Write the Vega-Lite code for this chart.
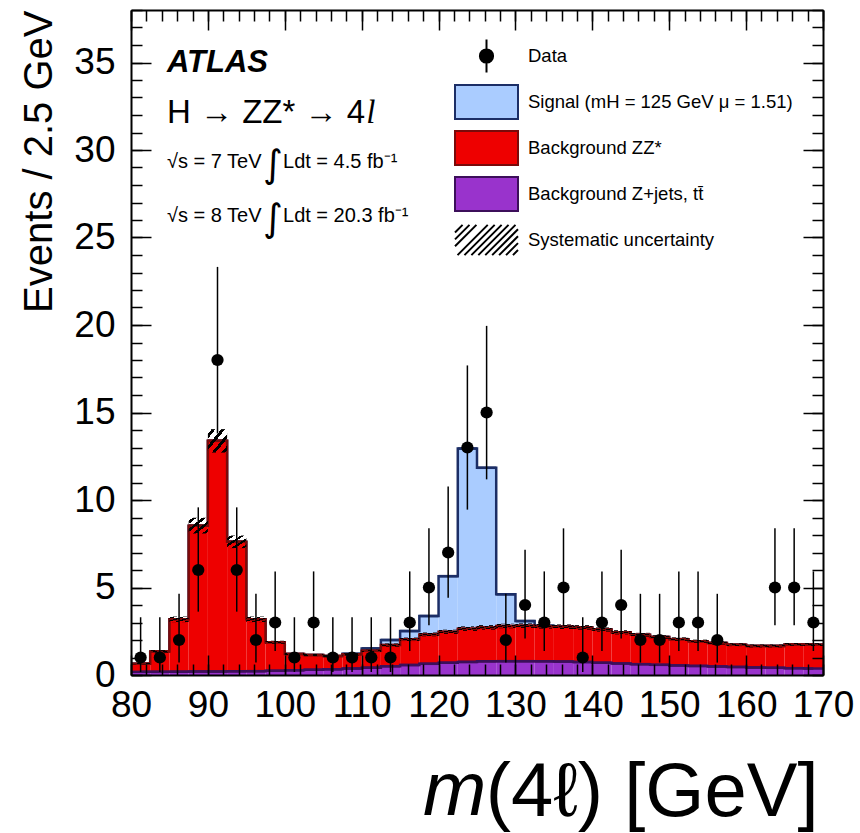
{
  "$schema": "https://vega.github.io/schema/vega-lite/v6.json",
  "width": 692,
  "height": 665,
  "autosize": "none",
  "padding": {"left": 131, "top": 10, "right": 37, "bottom": 158},
  "background": "white",
  "config": {"font": "Liberation Sans", "view": {"stroke": null}, "legend": {"rowPadding": 2}},
  "datasets": {
    "bins": [
      {"lo": 80, "hi": 82.5, "bkg_zjets": 0.18, "bkg_zz": 0.47, "sig_higgs": 0, "syst": 0.04},
      {"lo": 82.5, "hi": 85, "bkg_zjets": 0.18, "bkg_zz": 1.17, "sig_higgs": 0, "syst": 0.07},
      {"lo": 85, "hi": 87.5, "bkg_zjets": 0.19, "bkg_zz": 2.99, "sig_higgs": 0, "syst": 0.16},
      {"lo": 87.5, "hi": 90, "bkg_zjets": 0.2, "bkg_zz": 8.33, "sig_higgs": 0, "syst": 0.45},
      {"lo": 90, "hi": 92.5, "bkg_zjets": 0.2, "bkg_zz": 13.18, "sig_higgs": 0, "syst": 0.67},
      {"lo": 92.5, "hi": 95, "bkg_zjets": 0.21, "bkg_zz": 7.4, "sig_higgs": 0, "syst": 0.36},
      {"lo": 95, "hi": 97.5, "bkg_zjets": 0.22, "bkg_zz": 2.96, "sig_higgs": 0, "syst": 0.16},
      {"lo": 97.5, "hi": 100, "bkg_zjets": 0.24, "bkg_zz": 1.63, "sig_higgs": 0, "syst": 0.09},
      {"lo": 100, "hi": 102.5, "bkg_zjets": 0.27, "bkg_zz": 0.93, "sig_higgs": 0, "syst": 0.06},
      {"lo": 102.5, "hi": 105, "bkg_zjets": 0.3, "bkg_zz": 0.84, "sig_higgs": 0, "syst": 0.06},
      {"lo": 105, "hi": 107.5, "bkg_zjets": 0.33, "bkg_zz": 0.75, "sig_higgs": 0, "syst": 0.06},
      {"lo": 107.5, "hi": 110, "bkg_zjets": 0.37, "bkg_zz": 0.81, "sig_higgs": 0.03, "syst": 0.06},
      {"lo": 110, "hi": 112.5, "bkg_zjets": 0.42, "bkg_zz": 0.96, "sig_higgs": 0.14, "syst": 0.07},
      {"lo": 112.5, "hi": 115, "bkg_zjets": 0.5, "bkg_zz": 1.21, "sig_higgs": 0.29, "syst": 0.09},
      {"lo": 115, "hi": 117.5, "bkg_zjets": 0.57, "bkg_zz": 1.47, "sig_higgs": 0.47, "syst": 0.1},
      {"lo": 117.5, "hi": 120, "bkg_zjets": 0.64, "bkg_zz": 1.68, "sig_higgs": 1.05, "syst": 0.11},
      {"lo": 120, "hi": 122.5, "bkg_zjets": 0.7, "bkg_zz": 1.77, "sig_higgs": 3.18, "syst": 0.12},
      {"lo": 122.5, "hi": 125, "bkg_zjets": 0.75, "bkg_zz": 1.9, "sig_higgs": 10.29, "syst": 0.13},
      {"lo": 125, "hi": 127.5, "bkg_zjets": 0.78, "bkg_zz": 1.94, "sig_higgs": 9.12, "syst": 0.13},
      {"lo": 127.5, "hi": 130, "bkg_zjets": 0.79, "bkg_zz": 2.01, "sig_higgs": 1.81, "syst": 0.13},
      {"lo": 130, "hi": 132.5, "bkg_zjets": 0.79, "bkg_zz": 2.03, "sig_higgs": 0.26, "syst": 0.13},
      {"lo": 132.5, "hi": 135, "bkg_zjets": 0.78, "bkg_zz": 2.0, "sig_higgs": 0.04, "syst": 0.13},
      {"lo": 135, "hi": 137.5, "bkg_zjets": 0.77, "bkg_zz": 1.99, "sig_higgs": 0.02, "syst": 0.13},
      {"lo": 137.5, "hi": 140, "bkg_zjets": 0.74, "bkg_zz": 1.98, "sig_higgs": 0, "syst": 0.13},
      {"lo": 140, "hi": 142.5, "bkg_zjets": 0.7, "bkg_zz": 1.9, "sig_higgs": 0, "syst": 0.12},
      {"lo": 142.5, "hi": 145, "bkg_zjets": 0.66, "bkg_zz": 1.78, "sig_higgs": 0, "syst": 0.12},
      {"lo": 145, "hi": 147.5, "bkg_zjets": 0.62, "bkg_zz": 1.68, "sig_higgs": 0, "syst": 0.11},
      {"lo": 147.5, "hi": 150, "bkg_zjets": 0.58, "bkg_zz": 1.59, "sig_higgs": 0, "syst": 0.1},
      {"lo": 150, "hi": 152.5, "bkg_zjets": 0.55, "bkg_zz": 1.5, "sig_higgs": 0, "syst": 0.1},
      {"lo": 152.5, "hi": 155, "bkg_zjets": 0.52, "bkg_zz": 1.41, "sig_higgs": 0, "syst": 0.09},
      {"lo": 155, "hi": 157.5, "bkg_zjets": 0.49, "bkg_zz": 1.34, "sig_higgs": 0, "syst": 0.09},
      {"lo": 157.5, "hi": 160, "bkg_zjets": 0.46, "bkg_zz": 1.27, "sig_higgs": 0, "syst": 0.08},
      {"lo": 160, "hi": 162.5, "bkg_zjets": 0.43, "bkg_zz": 1.23, "sig_higgs": 0, "syst": 0.08},
      {"lo": 162.5, "hi": 165, "bkg_zjets": 0.41, "bkg_zz": 1.25, "sig_higgs": 0, "syst": 0.08},
      {"lo": 165, "hi": 167.5, "bkg_zjets": 0.39, "bkg_zz": 1.36, "sig_higgs": 0, "syst": 0.08},
      {"lo": 167.5, "hi": 170, "bkg_zjets": 0.37, "bkg_zz": 1.37, "sig_higgs": 0, "syst": 0.08}
    ],
    "obs": [
      {"m": 81.25, "n": 1, "lo": 0.17, "hi": 3.3},
      {"m": 83.75, "n": 1, "lo": 0.17, "hi": 3.3},
      {"m": 86.25, "n": 2, "lo": 0.71, "hi": 4.64},
      {"m": 88.75, "n": 6, "lo": 3.62, "hi": 9.58},
      {"m": 91.25, "n": 18, "lo": 13.8, "hi": 23.32},
      {"m": 93.75, "n": 6, "lo": 3.62, "hi": 9.58},
      {"m": 96.25, "n": 2, "lo": 0.71, "hi": 4.64},
      {"m": 98.75, "n": 3, "lo": 1.37, "hi": 5.92},
      {"m": 101.25, "n": 1, "lo": 0.17, "hi": 3.3},
      {"m": 103.75, "n": 3, "lo": 1.37, "hi": 5.92},
      {"m": 106.25, "n": 1, "lo": 0.17, "hi": 3.3},
      {"m": 108.75, "n": 1, "lo": 0.17, "hi": 3.3},
      {"m": 111.25, "n": 1, "lo": 0.17, "hi": 3.3},
      {"m": 113.75, "n": 1, "lo": 0.17, "hi": 3.3},
      {"m": 116.25, "n": 3, "lo": 1.37, "hi": 5.92},
      {"m": 118.75, "n": 5, "lo": 2.84, "hi": 8.38},
      {"m": 121.25, "n": 7, "lo": 4.42, "hi": 10.77},
      {"m": 123.75, "n": 13, "lo": 9.45, "hi": 17.69},
      {"m": 126.25, "n": 15, "lo": 11.18, "hi": 19.95},
      {"m": 128.75, "n": 2, "lo": 0.71, "hi": 4.64},
      {"m": 131.25, "n": 4, "lo": 2.09, "hi": 7.16},
      {"m": 133.75, "n": 3, "lo": 1.37, "hi": 5.92},
      {"m": 136.25, "n": 5, "lo": 2.84, "hi": 8.38},
      {"m": 138.75, "n": 1, "lo": 0.17, "hi": 3.3},
      {"m": 141.25, "n": 3, "lo": 1.37, "hi": 5.92},
      {"m": 143.75, "n": 4, "lo": 2.09, "hi": 7.16},
      {"m": 146.25, "n": 2, "lo": 0.71, "hi": 4.64},
      {"m": 148.75, "n": 2, "lo": 0.71, "hi": 4.64},
      {"m": 151.25, "n": 3, "lo": 1.37, "hi": 5.92},
      {"m": 153.75, "n": 3, "lo": 1.37, "hi": 5.92},
      {"m": 156.25, "n": 2, "lo": 0.71, "hi": 4.64},
      {"m": 158.75, "n": 0, "lo": 0, "hi": 1.84},
      {"m": 161.25, "n": 0, "lo": 0, "hi": 1.84},
      {"m": 163.75, "n": 5, "lo": 2.84, "hi": 8.38},
      {"m": 166.25, "n": 5, "lo": 2.84, "hi": 8.38},
      {"m": 168.75, "n": 3, "lo": 1.37, "hi": 5.92}
    ],
    "entries": [
      {"entry": "Data"},
      {"entry": "Signal (mH = 125 GeV μ = 1.51)"},
      {"entry": "Background ZZ*"},
      {"entry": "Background Z+jets, tt̄"},
      {"entry": "Systematic uncertainty"}
    ]
  },
  "resolve": {"axis": {"x": "independent", "y": "independent"}},
  "layer": [
    {
      "data": {"name": "bins"},
      "transform": [
        {"calculate": "(datum.lo + datum.hi) / 2", "as": "mid"},
        {"fold": ["bkg_zjets", "bkg_zz", "sig_higgs"], "as": ["comp", "val"]},
        {"stack": "val", "groupby": ["lo"], "sort": [{"field": "comp", "order": "ascending"}], "as": ["v0", "v1"]}
      ],
      "resolve": {"axis": {"x": "independent", "y": "independent"}},
      "layer": [
        {
          "transform": [{"filter": "datum.comp === 'sig_higgs'"}],
          "mark": {"type": "rect", "fill": "#aaccff"},
          "encoding": {
            "x": {"field": "lo", "type": "quantitative", "scale": {"domain": [80, 170], "nice": false, "zero": false},
              "axis": {"orient": "bottom", "values": [80, 90, 100, 110, 120, 130, 140, 150, 160, 170], "ticks": false, "domain": true, "domainColor": "black", "domainWidth": 2, "grid": false, "labels": true, "labelFont": "Liberation Sans", "labelFontSize": 37, "labelColor": "black", "labelPadding": 12, "labelFlush": false, "labelOverlap": false, "labelBound": false, "zindex": 1,
                "title": "(4ℓ) [GeV]", "titleFont": "Liberation Sans", "titleFontSize": 76, "titleFontWeight": "normal", "titleColor": "black", "titleX": 687, "titleY": 140, "titleAlign": "right", "titleBaseline": "alphabetic", "titleAngle": 0}},
            "x2": {"field": "hi"},
            "y": {"field": "v0", "type": "quantitative", "scale": {"domain": [0, 38], "nice": false, "zero": false},
              "axis": {"orient": "left", "values": [0, 5, 10, 15, 20, 25, 30, 35], "ticks": false, "domain": true, "domainColor": "black", "domainWidth": 2, "grid": false, "labels": true, "labelFont": "Liberation Sans", "labelFontSize": 37, "labelColor": "black", "labelPadding": 16, "labelAlign": "right", "labelBaseline": "middle", "labelFlush": false, "labelOverlap": false, "labelBound": false, "zindex": 1,
                "title": "Events / 2.5 GeV", "titleFont": "Liberation Sans", "titleFontSize": 40, "titleFontWeight": "normal", "titleColor": "black", "titleX": -80, "titleY": 0, "titleAngle": -90, "titleAlign": "right", "titleBaseline": "alphabetic"}},
            "y2": {"field": "v1"}
          }
        },
        {
          "transform": [{"filter": "datum.comp === 'sig_higgs'"}],
          "mark": {"type": "line", "interpolate": "step", "stroke": "#1c2e66", "strokeWidth": 2.5},
          "encoding": {
            "x": {"field": "mid", "type": "quantitative",
              "axis": {"orient": "bottom", "values": [80, 90, 100, 110, 120, 130, 140, 150, 160, 170], "ticks": true, "tickSize": -20, "tickWidth": 1.5, "tickColor": "black", "labels": false, "domain": false, "grid": false, "title": null, "zindex": 1}},
            "y": {"field": "v1", "type": "quantitative",
              "axis": {"orient": "left", "values": [0, 5, 10, 15, 20, 25, 30, 35], "ticks": true, "tickSize": -20, "tickWidth": 1.5, "tickColor": "black", "labels": false, "domain": false, "grid": false, "title": null, "zindex": 1}}
          }
        },
        {
          "transform": [{"filter": "datum.comp === 'sig_higgs'"}],
          "mark": {"type": "rule", "stroke": "#1c2e66", "strokeWidth": 2.5},
          "encoding": {
            "x": {"field": "lo", "type": "quantitative",
              "axis": {"orient": "bottom", "values": [80, 82, 84, 86, 88, 90, 92, 94, 96, 98, 100, 102, 104, 106, 108, 110, 112, 114, 116, 118, 120, 122, 124, 126, 128, 130, 132, 134, 136, 138, 140, 142, 144, 146, 148, 150, 152, 154, 156, 158, 160, 162, 164, 166, 168, 170], "ticks": true, "tickSize": -11, "tickWidth": 1.5, "tickColor": "black", "labels": false, "domain": false, "grid": false, "title": null, "zindex": 1}},
            "x2": {"field": "hi"},
            "y": {"field": "v1", "type": "quantitative",
              "axis": {"orient": "left", "values": [0, 1, 2, 3, 4, 5, 6, 7, 8, 9, 10, 11, 12, 13, 14, 15, 16, 17, 18, 19, 20, 21, 22, 23, 24, 25, 26, 27, 28, 29, 30, 31, 32, 33, 34, 35, 36, 37, 38], "ticks": true, "tickSize": -11, "tickWidth": 1.5, "tickColor": "black", "labels": false, "domain": false, "grid": false, "title": null, "zindex": 1}}
          }
        },
        {
          "transform": [{"filter": "datum.comp === 'bkg_zz'"}],
          "mark": {"type": "rect", "fill": "#ee0000"},
          "encoding": {
            "x": {"field": "lo", "type": "quantitative",
              "axis": {"orient": "top", "values": [80, 90, 100, 110, 120, 130, 140, 150, 160, 170], "ticks": true, "tickSize": -20, "tickWidth": 1.5, "tickColor": "black", "labels": false, "domain": true, "domainColor": "black", "domainWidth": 2, "grid": false, "title": null, "zindex": 1}},
            "x2": {"field": "hi"},
            "y": {"field": "v0", "type": "quantitative",
              "axis": {"orient": "right", "values": [0, 5, 10, 15, 20, 25, 30, 35], "ticks": true, "tickSize": -20, "tickWidth": 1.5, "tickColor": "black", "labels": false, "domain": true, "domainColor": "black", "domainWidth": 2, "grid": false, "title": null, "zindex": 1}},
            "y2": {"field": "v1"}
          }
        },
        {
          "transform": [{"filter": "datum.comp === 'bkg_zz'"}],
          "mark": {"type": "line", "interpolate": "step", "stroke": "#7a0a0a", "strokeWidth": 2.5},
          "encoding": {
            "x": {"field": "mid", "type": "quantitative",
              "axis": {"orient": "top", "values": [80, 82, 84, 86, 88, 90, 92, 94, 96, 98, 100, 102, 104, 106, 108, 110, 112, 114, 116, 118, 120, 122, 124, 126, 128, 130, 132, 134, 136, 138, 140, 142, 144, 146, 148, 150, 152, 154, 156, 158, 160, 162, 164, 166, 168, 170], "ticks": true, "tickSize": -11, "tickWidth": 1.5, "tickColor": "black", "labels": false, "domain": false, "grid": false, "title": null, "zindex": 1}},
            "y": {"field": "v1", "type": "quantitative",
              "axis": {"orient": "right", "values": [0, 1, 2, 3, 4, 5, 6, 7, 8, 9, 10, 11, 12, 13, 14, 15, 16, 17, 18, 19, 20, 21, 22, 23, 24, 25, 26, 27, 28, 29, 30, 31, 32, 33, 34, 35, 36, 37, 38], "ticks": true, "tickSize": -11, "tickWidth": 1.5, "tickColor": "black", "labels": false, "domain": false, "grid": false, "title": null, "zindex": 1}}
          }
        },
        {
          "transform": [{"filter": "datum.comp === 'bkg_zz'"}],
          "mark": {"type": "rule", "stroke": "#7a0a0a", "strokeWidth": 2.5},
          "encoding": {
            "x": {"field": "lo", "type": "quantitative", "axis": null},
            "x2": {"field": "hi"},
            "y": {"field": "v1", "type": "quantitative", "axis": null}
          }
        },
        {
          "transform": [{"filter": "datum.comp === 'bkg_zjets'"}],
          "mark": {"type": "rect", "fill": "#9933cc"},
          "encoding": {
            "x": {"field": "lo", "type": "quantitative", "axis": null},
            "x2": {"field": "hi"},
            "y": {"field": "v0", "type": "quantitative", "axis": null},
            "y2": {"field": "v1"}
          }
        },
        {
          "transform": [{"filter": "datum.comp === 'bkg_zjets'"}],
          "mark": {"type": "line", "interpolate": "step", "stroke": "#3c0f5a", "strokeWidth": 2.5},
          "encoding": {
            "x": {"field": "mid", "type": "quantitative", "axis": null},
            "y": {"field": "v1", "type": "quantitative", "axis": null}
          }
        },
        {
          "transform": [{"filter": "datum.comp === 'bkg_zjets'"}],
          "mark": {"type": "rule", "stroke": "#3c0f5a", "strokeWidth": 2.5},
          "encoding": {
            "x": {"field": "lo", "type": "quantitative", "axis": null},
            "x2": {"field": "hi"},
            "y": {"field": "v1", "type": "quantitative", "axis": null}
          }
        },
        {
          "transform": [
            {"filter": "datum.comp === 'bkg_zz'"},
            {"calculate": "datum.v1 - datum.syst", "as": "band_lo"},
            {"calculate": "datum.v1 + datum.syst", "as": "band_hi"}
          ],
          "mark": {"type": "rect", "fill": {"gradient": "linear", "x1": 0, "y1": 0, "x2": 1, "y2": 1, "stops": [
            {"offset": 0, "color": "rgba(0,0,0,0)"}, {"offset": 0.1, "color": "rgba(0,0,0,0)"},
            {"offset": 0.1, "color": "#000000"}, {"offset": 0.2, "color": "#000000"},
            {"offset": 0.2, "color": "rgba(0,0,0,0)"}, {"offset": 0.35, "color": "rgba(0,0,0,0)"},
            {"offset": 0.35, "color": "#000000"}, {"offset": 0.45, "color": "#000000"},
            {"offset": 0.45, "color": "rgba(0,0,0,0)"}, {"offset": 0.6, "color": "rgba(0,0,0,0)"},
            {"offset": 0.6, "color": "#000000"}, {"offset": 0.7, "color": "#000000"},
            {"offset": 0.7, "color": "rgba(0,0,0,0)"}, {"offset": 0.85, "color": "rgba(0,0,0,0)"},
            {"offset": 0.85, "color": "#000000"}, {"offset": 0.95, "color": "#000000"},
            {"offset": 0.95, "color": "rgba(0,0,0,0)"}, {"offset": 1, "color": "rgba(0,0,0,0)"}
          ]}},
          "encoding": {
            "x": {"field": "lo", "type": "quantitative", "axis": null},
            "x2": {"field": "hi"},
            "y": {"field": "band_lo", "type": "quantitative", "axis": null},
            "y2": {"field": "band_hi"}
          }
        }
      ]
    },
    {
      "data": {"name": "obs"},
      "transform": [{"filter": "datum.n > 0"}],
      "resolve": {"axis": {"x": "independent", "y": "independent"}},
      "layer": [
        {
          "mark": {"type": "rule", "stroke": "black", "strokeWidth": 1.5},
          "encoding": {
            "x": {"field": "m", "type": "quantitative", "axis": null},
            "y": {"field": "lo", "type": "quantitative", "axis": null},
            "y2": {"field": "hi"}
          }
        },
        {
          "mark": {"type": "point", "shape": "circle", "filled": true, "size": 150, "color": "black", "opacity": 1},
          "encoding": {
            "x": {"field": "m", "type": "quantitative", "axis": null},
            "y": {"field": "n", "type": "quantitative", "axis": null}
          }
        }
      ]
    },
    {
      "data": {"values": [{}]},
      "mark": {"type": "text", "text": "ATLAS", "font": "Liberation Sans", "fontSize": 31, "fontWeight": "bold", "fontStyle": "italic", "align": "left", "baseline": "alphabetic", "color": "black"},
      "encoding": {
        "x": {"datum": 84.68, "type": "quantitative", "axis": null},
        "y": {"datum": 34.46, "type": "quantitative", "axis": null}
      }
    },
    {
      "data": {"values": [{}]},
      "mark": {"type": "text", "text": "H → ZZ* → 4", "font": "Liberation Sans", "fontSize": 33, "align": "left", "baseline": "alphabetic", "color": "black"},
      "encoding": {
        "x": {"datum": 84.68, "type": "quantitative", "axis": null},
        "y": {"datum": 31.54, "type": "quantitative", "axis": null}
      }
    },
    {
      "data": {"values": [{}]},
      "mark": {"type": "text", "text": "l", "font": "Liberation Serif", "fontSize": 33, "fontStyle": "italic", "align": "left", "baseline": "alphabetic", "color": "black"},
      "encoding": {
        "x": {"datum": 110.6, "type": "quantitative", "axis": null},
        "y": {"datum": 31.54, "type": "quantitative", "axis": null}
      }
    },
    {
      "data": {"values": [{"t": "√s = 7 TeV"}]},
      "mark": {"type": "text", "font": "Liberation Sans", "fontSize": 20, "align": "left", "baseline": "alphabetic", "color": "black"},
      "encoding": {
        "text": {"field": "t"},
        "x": {"datum": 84.68, "type": "quantitative", "axis": null},
        "y": {"datum": 28.97, "type": "quantitative", "axis": null}
      }
    },
    {
      "data": {"values": [{"t": "√s = 8 TeV"}]},
      "mark": {"type": "text", "font": "Liberation Sans", "fontSize": 20, "align": "left", "baseline": "alphabetic", "color": "black"},
      "encoding": {
        "text": {"field": "t"},
        "x": {"datum": 84.68, "type": "quantitative", "axis": null},
        "y": {"datum": 25.89, "type": "quantitative", "axis": null}
      }
    },
    {
      "data": {"values": [{}]},
      "mark": {"type": "text", "text": "∫", "font": "DejaVu Sans", "fontSize": 38, "align": "left", "baseline": "alphabetic", "color": "black"},
      "encoding": {
        "x": {"datum": 97.2, "type": "quantitative", "axis": null},
        "y": {"datum": 28.46, "type": "quantitative", "axis": null}
      }
    },
    {
      "data": {"values": [{}]},
      "mark": {"type": "text", "text": "∫", "font": "DejaVu Sans", "fontSize": 38, "align": "left", "baseline": "alphabetic", "color": "black"},
      "encoding": {
        "x": {"datum": 97.2, "type": "quantitative", "axis": null},
        "y": {"datum": 25.37, "type": "quantitative", "axis": null}
      }
    },
    {
      "data": {"values": [{"t": "Ldt = 4.5 fb⁻¹"}]},
      "mark": {"type": "text", "font": "Liberation Sans", "fontSize": 20, "align": "left", "baseline": "alphabetic", "color": "black"},
      "encoding": {
        "text": {"field": "t"},
        "x": {"datum": 99.77, "type": "quantitative", "axis": null},
        "y": {"datum": 28.97, "type": "quantitative", "axis": null}
      }
    },
    {
      "data": {"values": [{"t": "Ldt = 20.3 fb⁻¹"}]},
      "mark": {"type": "text", "font": "Liberation Sans", "fontSize": 20, "align": "left", "baseline": "alphabetic", "color": "black"},
      "encoding": {
        "text": {"field": "t"},
        "x": {"datum": 99.77, "type": "quantitative", "axis": null},
        "y": {"datum": 25.89, "type": "quantitative", "axis": null}
      }
    },
    {
      "data": {"values": [{}]},
      "mark": {"type": "text", "text": "m", "font": "Liberation Sans", "fontSize": 76, "fontStyle": "italic", "align": "right", "baseline": "alphabetic", "color": "black"},
      "encoding": {
        "x": {"datum": 126.2, "type": "quantitative", "axis": null},
        "y": {"datum": -8.0, "type": "quantitative", "axis": null}
      }
    },
    {
      "data": {"name": "entries"},
      "mark": {"type": "point", "filled": true, "opacity": 0},
      "encoding": {
        "fill": {"field": "entry", "type": "nominal",
          "scale": {"domain": ["Data", "Signal (mH = 125 GeV μ = 1.51)", "Background ZZ*", "Background Z+jets, tt̄", "Systematic uncertainty"],
            "range": ["black", "#aaccff", "#ee0000", "#9933cc", "transparent"]},
          "legend": {"orient": "none", "legendX": 323, "legendY": 24, "title": null, "symbolSize": 992, "symbolOffset": 15.5, "symbolStrokeWidth": 2, "symbolOpacity": 1, "clipHeight": 44, "labelFont": "Liberation Sans", "labelFontSize": 18.5, "labelColor": "black", "labelOffset": 24.5, "labelLimit": 400, "rowPadding": 2, "padding": 0,
            "encode": {"symbols": {"update": {
              "fill": {"scale": "fill", "field": "value"},
              "fillOpacity": {"value": 1},
              "opacity": {"value": 1}
            }}}}},
        "stroke": {"field": "entry", "type": "nominal",
          "scale": {"domain": ["Data", "Signal (mH = 125 GeV μ = 1.51)", "Background ZZ*", "Background Z+jets, tt̄", "Systematic uncertainty"],
            "range": ["black", "#1c2e66", "#7a0a0a", "#3c0f5a", "black"]}},
        "shape": {"field": "entry", "type": "nominal",
          "scale": {"domain": ["Data", "Signal (mH = 125 GeV μ = 1.51)", "Background ZZ*", "Background Z+jets, tt̄", "Systematic uncertainty"],
            "range": [
              "M0,-1.04V1.04M-0.42,0A0.42,0.42,0,1,0,0.42,0A0.42,0.42,0,1,0,-0.42,0Z",
              "M-2,-1.08H2V1.08H-2Z",
              "M-2,-1.08H2V1.08H-2Z",
              "M-2,-1.08H2V1.08H-2Z",
              "M-2,-0.48L-1.52,-0.96M-2,0.4L-0.64,-0.96M-1.84,0.96L0.08,-0.96M-0.96,0.96L0.96,-0.96M-0.08,0.96L1.84,-0.96M0.8,0.96L2,-0.24M1.68,0.96L2,0.64M-2,-0.04L-1.08,-0.96M-1.4,0.96L0.52,-0.96M-0.52,0.96L1.4,-0.96M0.36,0.96L2,-0.68M1.24,0.96L2,0.2"
            ]}}
      }
    }
  ]
}
